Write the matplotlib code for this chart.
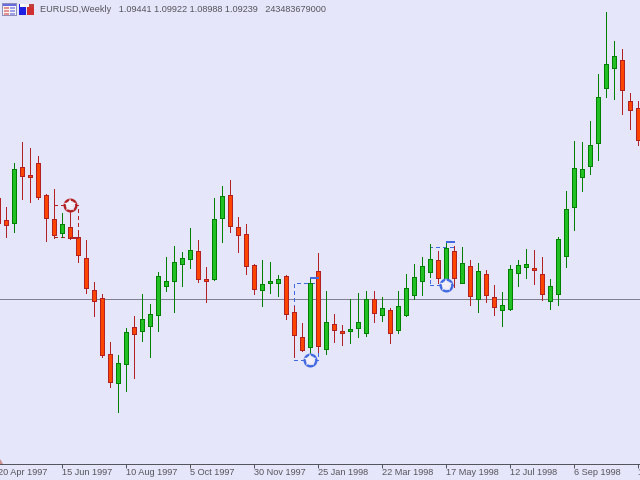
import matplotlib
matplotlib.use("Agg")
import matplotlib.pyplot as plt
from matplotlib.patches import Rectangle
from matplotlib.transforms import IdentityTransform
import numpy as np

# Weekly candles (no price scale is shown, so values are chart levels)
opens = [282,260,257,313,305,317,285,261,247,253,243,222,190,182,126,97,116,153,149,154,165,194,199,216,221,229,
         201,201,262,285,253,246,215,190,197,197,204,168,143,133,209,131,156,149,149,152,147,181,165,170,150,165,
         185,199,208,220,201,229,197,214,181,206,183,170,171,207,213,212,206,179,186,224,273,303,314,337,392,412,420,379,372]
closes = [257,255,311,304,303,283,262,245,256,242,225,192,179,125,98,117,148,146,161,166,204,199,218,222,230,201,
          199,261,284,254,245,214,191,196,199,201,166,145,130,197,134,158,150,147,151,158,181,167,172,147,174,192,
          203,214,221,202,232,202,217,184,209,185,173,175,211,215,216,210,186,194,241,271,312,311,335,383,416,424,390,370,340]
highs = [282,273,317,338,332,324,286,291,267,275,248,240,198,186,138,125,152,164,186,176,208,223,234,228,252,240,
         213,282,294,300,263,256,216,220,218,205,205,174,157,202,227,189,166,155,181,187,189,189,183,172,189,206,
         216,223,236,229,238,234,233,220,217,210,195,188,215,220,231,230,223,201,243,289,339,338,359,406,468,439,431,387,379]
lows = [257,243,248,281,278,281,239,242,243,241,218,187,164,123,93,68,89,102,139,123,149,189,168,194,212,198,
        178,200,238,248,228,206,186,174,187,184,161,123,129,119,128,126,138,135,137,143,144,158,159,137,147,164,
        181,185,203,197,194,193,197,175,168,178,165,154,170,194,202,196,180,171,175,213,250,289,306,320,383,381,366,351,335]

tick_labels = ["20 Apr 1997","15 Jun 1997","10 Aug 1997","5 Oct 1997","30 Nov 1997","25 Jan 1998",
               "22 Mar 1998","17 May 1998","12 Jul 1998","6 Sep 1998","1 Nov 1998"]
header = "EURUSD,Weekly   1.09441 1.09922 1.08988 1.09239   243483679000"
price_line = 181

# Signal boxes: candle span, level span, marker position, colour
sig_left = [7, 37, 54]
sig_right = [10, 40, 57]
sig_low = [243, 120, 195]
sig_high = [275, 197, 233]
sig_star_x = [9, 39, 56]
sig_star_y = [275, 120, 195]
sig_bar_y = [242, 202, 238]
sig_colors = ["#b22222", "#4169e1", "#4169e1"]

BG = "#e6e6fa"
TXT = "#55555d"
fig = plt.figure(figsize=(6.4, 4.8), dpi=100, facecolor=BG)
ax = fig.add_axes([0, 16.5 / 480, 1, 463.5 / 480], facecolor=BG)

x = np.arange(len(opens))
o, c, h, l = map(np.array, (opens, closes, highs, lows))
up = c >= o
px = 1 * 72 / 100

ax.axhline(price_line, color="#808090", lw=px, zorder=1)

for mask, edge, face in ((up, "#008000", "#22c022"), (~up, "#b22222", "#ff4500")):
    ax.vlines(x[mask], l[mask], h[mask], color=edge, lw=px, antialiased=False, zorder=2)
    ax.bar(x[mask], (c - o)[mask], bottom=o[mask], width=0.5, facecolor=face, edgecolor=edge,
           linewidth=px, antialiased=False, zorder=3)

for x0, x1, y0, y1, sx, sy, by, col in zip(sig_left, sig_right, sig_low, sig_high,
                                           sig_star_x, sig_star_y, sig_bar_y, sig_colors):
    ax.plot([x0, x1, x1, x0, x0], [y0, y0, y1, y1, y0], color=col, lw=px, ls=(0, (4, 3)),
            antialiased=False, zorder=1.5)
    ax.plot([sx, x1 + 0.1], [by, by], color=col, lw=2 * px, antialiased=False, zorder=4, solid_capstyle="butt")
    ax.scatter([sx], [sy], s=70, facecolor=BG, edgecolor=col, linewidth=1.7, marker="o", zorder=5)
    ax.scatter([sx], [sy], s=100, color="#f4f0fa", edgecolor="none", marker="*", zorder=6)

ax.scatter([0.25], [18], s=22, marker="^", color="#d09090", linewidth=0, zorder=2)

for name in ("top", "left", "right"):
    ax.spines[name].set_visible(False)
ax.spines["bottom"].set_color(TXT)
ax.spines["bottom"].set_linewidth(px)
ax.set_yticks([])
ax.set_xticks(np.arange(8, 81, 8))
ax.set_xticklabels(tick_labels[1:], ha="left", family="Liberation Sans", fontsize=6.6, color=TXT)
ax.tick_params(axis="x", length=3, width=px, color=TXT, pad=0.5)
ax.set_xlim(0.25, 80.25)
ax.set_ylim(16.5, 480)
ax.annotate(tick_labels[0], xy=(0, 0), xycoords=("data", "axes fraction"), xytext=(0, -3.5),
            textcoords="offset points", ha="left", va="top", family="Liberation Sans", fontsize=6.6,
            color=TXT, annotation_clip=False)

# Header text and window icons
fig.text(40 / 640, 1 - 9.5 / 480, header, family="Liberation Sans", fontsize=6.6, color=TXT,
         ha="left", va="center")

def box(x0, y0, w, h, color):
    fig.add_artist(Rectangle((x0, 480 - y0 - h), w, h, transform=IdentityTransform(), facecolor=color,
                             edgecolor="none", antialiased=False))

box(2, 3, 15, 13, "#8f8fb8")
box(3, 4, 13, 2, "#6a6ae0")
box(3, 6, 13, 9, "#f4f4f4")
for r in (7, 10, 13):
    box(4, r, 5, 2, "#e89090")
    box(10, r, 5, 2, "#a0a0e8")
box(19, 4, 7, 11, "#2020e0")
box(20, 4, 4, 3, "#ffffff")
box(27, 6, 7, 9, "#d03030")
box(24, 4, 5, 3, "#f4f4f4")
box(29, 4, 5, 3, "#c04040")

fig.savefig("out.png", dpi=100, facecolor=BG)
